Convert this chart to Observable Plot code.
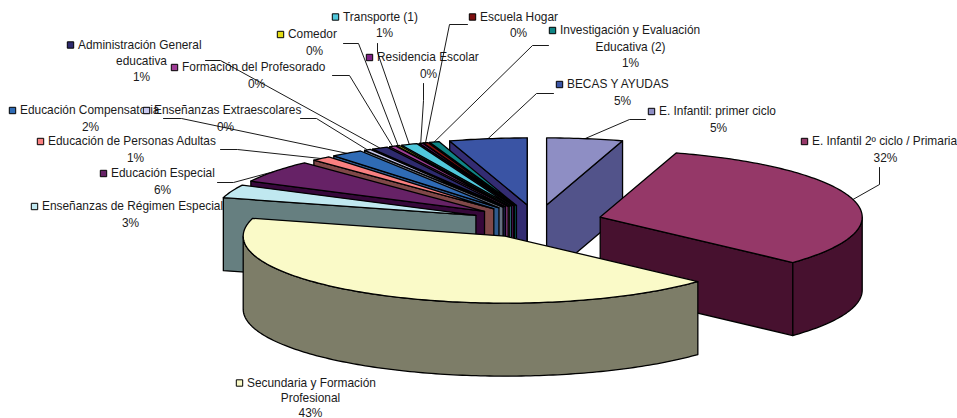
<!DOCTYPE html>
<html>
<head>
<meta charset="utf-8">
<script src="https://cdn.jsdelivr.net/npm/d3@7"></script>
<script src="https://cdn.jsdelivr.net/npm/@observablehq/plot@0.6"></script>
<style>
html,body{margin:0;padding:0;background:#fff}
svg{display:block}
</style>
</head>
<body>
<div id="chart"></div>
<script>
// Data, clockwise from 12 o'clock
const names = [
  ["E. Infantil: primer ciclo"],
  ["E. Infantil 2º ciclo / Primaria"],
  ["Secundaria y Formación", "Profesional"],
  ["Enseñanzas de Régimen Especial"],
  ["Educación Especial"],
  ["Educación de Personas Adultas"],
  ["Educación Compensatoria"],
  ["Enseñanzas Extraescolares"],
  ["Administración General", "educativa"],
  ["Formación del Profesorado"],
  ["Comedor"],
  ["Transporte (1)"],
  ["Residencia Escolar"],
  ["Escuela Hogar"],
  ["Investigación y Evaluación", "Educativa (2)"],
  ["BECAS Y AYUDAS"]
];
const values = [4.7, 32.3, 42.6, 3.2, 5.5, 1.2, 2, 0.4, 1, 0.4, 0.2, 1, 0.2, 0.3, 0.6, 4.8];
const topColors = ["#8e8ec4","#953868","#fafac8","#c0e8f0","#662266","#f98080","#2f6bb5","#c8c8f0","#2e2a6e","#9e3d95","#e4dc14","#50c8dc","#7e2185","#7e1010","#0f8585","#3a54a4"];
const wallColors = ["#52538a","#47112f","#7d7d68","#667f80","#36083a","#804848","#2f5a8d","#667080","#1c1a45","#8a3a80","#77730c","#2f7585","#451150","#450808","#0a7c7c","#332c72"];
// back-to-front painting order
const paintOrder = [0,15,14,13,12,11,10,9,8,7,6,5,4,3,1,2];

// Label layout: swatch x, first line y, centre x of the following lines, line gap
const labelX = [651,804,239,34,103,40,12,146,70,174,280,335,369,472,552,559];
const labelY = [111,141,382.5,206,173,141,110,110,44.5,67,34,16.5,57,16.5,30,84];
const labelCentre = [718,885,310,130,162,135,90,225,141,256,314,384,428,518,630,622];
const labelGap = [16.3,16.3,15.3,16.3,16.3,16.3,16.3,16.3,16.3,16.3,16.3,16.3,16.3,16.3,16.3,16.3];
// Leader elbows (label end, knee); null when there is none
const leaderStart = [[645,119],[879,167],null,null,[217,182],[220,149],[163,118],[300,118],[205,60],[332,75],[343,43],[377,43],[423,83],[467,24],[548,45],[553,93]];
const leaderKnee  = [[629,119],[879,184],null,null,[233,182],[237,149],[181,118],[316,118],[220,60],[349,75],[358,43],[377,52],[423,100],[449,24],[532,45],[536,93]];

// Pie projection
const cx = 536.5, cy = 221, rx = 262, ry = 67, explode = 0.25, depth = 73;
const arcs = d3.pie().sort(null)(values).map(d => ({start: d.startAngle, end: d.endAngle, mid: (d.startAngle + d.endAngle) / 2}));
const apex = a => [cx + explode * rx * Math.sin(a.mid), cy - explode * ry * Math.cos(a.mid)];
const rim = (a, t) => { const [x, y] = apex(a); return [x + rx * Math.sin(t), y - ry * Math.cos(t)]; };
const down = ([x, y]) => [x, y + depth];
const step = Math.PI / 180;
const sweep = (t0, t1) => { const n = Math.max(1, Math.ceil((t1 - t0) / step)); return d3.range(n + 1).map(i => t0 + (t1 - t0) * i / n); };

const faces = [];
let fid = 0;
const addFace = (pts, fill) => { fid++; for (const [x, y] of pts) faces.push({id: fid, fill, x, y}); };
for (const i of paintOrder) {
  const a = arcs[i], A = apex(a);
  if (Math.sin(a.start) < 0) { const P = rim(a, a.start); addFace([A, P, down(P), down(A)], wallColors[i]); }
  if (Math.sin(a.end) > 0) { const P = rim(a, a.end); addFace([A, P, down(P), down(A)], wallColors[i]); }
  const t0 = Math.max(a.start, Math.PI / 2), t1 = Math.min(a.end, 3 * Math.PI / 2);
  if (t0 < t1) {
    const ts = sweep(t0, t1).map(t => rim(a, t));
    addFace([...ts, ...ts.slice().reverse().map(down)], wallColors[i]);
  }
  addFace([A, ...sweep(a.start, a.end).map(t => rim(a, t))], topColors[i]);
}

const leaders = [];
names.forEach((_, i) => {
  if (!leaderStart[i]) return;
  const end = rim(arcs[i], arcs[i].mid);
  [leaderStart[i], leaderKnee[i], end].forEach(([x, y]) => leaders.push({id: i, x, y}));
});

const textStart = [], textCentre = [], swatches = [];
names.forEach((lines, i) => {
  swatches.push({x: labelX[i], y: labelY[i], fill: topColors[i]});
  textStart.push({x: labelX[i] + 7.5, y: labelY[i], t: lines[0]});
  lines.slice(1).forEach((l, k) => textCentre.push({x: labelCentre[i], y: labelY[i] + labelGap[i] * (k + 1), t: l}));
  textCentre.push({x: labelCentre[i], y: labelY[i] + labelGap[i] * lines.length, t: Math.round(values[i]) + "%"});
});

const font = {fontFamily: "'Liberation Sans', Arial, sans-serif", fontSize: 11.9, fill: "#1a1a1a"};
const chart = Plot.plot({
  width: 957, height: 418,
  margin: 0,
  x: {type: "identity", axis: null},
  y: {type: "identity", axis: null},
  color: {type: "identity"},
  style: {background: "#fff"},
  marks: [
    Plot.text(textStart, {x: "x", y: "y", text: "t", textAnchor: "start", ...font}),
    Plot.text(textCentre, {x: "x", y: "y", text: "t", textAnchor: "middle", ...font}),
    Plot.dot(swatches, {x: "x", y: "y", fill: "fill", symbol: "square", r: 3.6, stroke: "#000", strokeWidth: 1}),
    Plot.line(leaders, {x: "x", y: "y", z: "id", stroke: "#000", strokeWidth: 0.9, curve: "linear"}),
    Plot.line(faces, {x: "x", y: "y", z: "id", fill: "fill", stroke: "#000", strokeWidth: 1.3, curve: "linear-closed"})
  ]
});
document.getElementById("chart").append(chart);
</script>
</body>
</html>
